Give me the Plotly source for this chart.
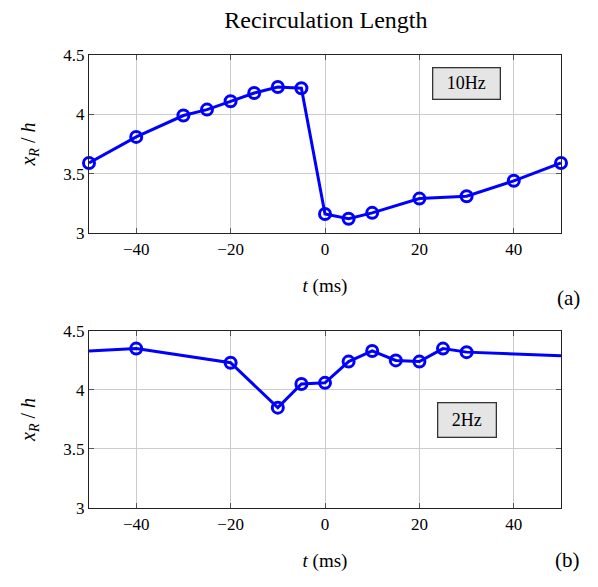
import plotly.graph_objects as go

# ---- data ----
t_10hz = [-50, -40, -30, -25, -20, -15, -10, -5, 0, 5, 10, 20, 30, 40, 50]
xr_10hz = [3.59, 3.81, 3.99, 4.04, 4.11, 4.18, 4.23, 4.22, 3.16, 3.12, 3.17, 3.29, 3.31, 3.44, 3.59]

t_2hz = [-50, -40, -20, -10, -5, 0, 5, 10, 15, 20, 25, 30, 50]
xr_2hz = [4.33, 4.35, 4.23, 3.85, 4.05, 4.06, 4.24, 4.33, 4.25, 4.24, 4.35, 4.32, 4.29]
marker_2hz = [False, True, True, True, True, True, True, True, True, True, True, True, False]

x_ticks = [-40, -20, 0, 20, 40]
y_ticks = [3, 3.5, 4, 4.5]
y_tick_text = ["3", "3.5", "4", "4.5"]

BLUE = "#0000ff"
SERIF = "Liberation Serif"

fig = go.Figure()

fig.add_trace(go.Scatter(
    x=t_10hz, y=xr_10hz, mode="lines+markers",
    line=dict(color=BLUE, width=3),
    marker=dict(symbol="circle-open", size=11, color=BLUE, opacity=1, line=dict(width=3, color=BLUE)),
    xaxis="x", yaxis="y", cliponaxis=False, showlegend=False))

fig.add_trace(go.Scatter(
    x=t_2hz, y=xr_2hz, mode="lines",
    line=dict(color=BLUE, width=3),
    xaxis="x2", yaxis="y2", showlegend=False))
fig.add_trace(go.Scatter(
    x=[t for t, m in zip(t_2hz, marker_2hz) if m],
    y=[v for v, m in zip(xr_2hz, marker_2hz) if m],
    mode="markers",
    marker=dict(symbol="circle-open", size=11, color=BLUE, opacity=1, line=dict(width=3, color=BLUE)),
    xaxis="x2", yaxis="y2", cliponaxis=False, showlegend=False))

axis_common = dict(
    showline=True, linecolor="#222", linewidth=1.3, mirror="ticks",
    ticks="inside", ticklen=5, tickcolor="#555", tickwidth=1,
    showgrid=True, gridcolor="#cccccc", gridwidth=1, zeroline=False,
    tickfont=dict(family=SERIF, size=17, color="black"), automargin=False,
)

xcommon = dict(axis_common, range=[-50, 50], tickvals=x_ticks)
ycommon = dict(axis_common, range=[3, 4.5], tickvals=y_ticks, ticktext=y_tick_text)

xtitle = dict(text="<i>t</i> (ms)", font=dict(family=SERIF, size=19, color="black"), standoff=21)
ytitle = dict(text="<i>x</i><sub><i>R</i></sub> / <i>h</i>", font=dict(family=SERIF, size=20, color="black"), standoff=22)

fig.update_layout(
    width=598, height=587,
    margin=dict(l=89, r=37, t=55, b=79),
    plot_bgcolor="white", paper_bgcolor="white",
    title=dict(text="Recirculation Length", x=0.545, xanchor="center", y=1 - 20 / 587, yanchor="middle",
               font=dict(family=SERIF, size=24, color="black")),
    xaxis=dict(xcommon, domain=[0, 1], anchor="y", title=xtitle),
    yaxis=dict(ycommon, domain=[0.607, 1.0], anchor="x", title=ytitle),
    xaxis2=dict(xcommon, domain=[0, 1], anchor="y2", title=xtitle),
    yaxis2=dict(ycommon, domain=[0, 0.391], anchor="x2", title=ytitle),
)

box = dict(bgcolor="#e5e5e5", bordercolor="#333", borderwidth=1.3, borderpad=3,
           font=dict(family=SERIF, size=18, color="black"), showarrow=False)
fig.add_annotation(text="10Hz", x=30, y=4.256, xref="x", yref="y", width=60, height=24, **box)
fig.add_annotation(text="2Hz", x=30, y=3.749, xref="x2", yref="y2", width=51, height=27, **box)

# panel labels placed by pixel position, converted to paper coords
W, H = 598, 587
L, R, T, B = 89, 37, 55, 79
pw, ph = W - L - R, H - T - B
for txt, px, py in [("(a)", 582, 298), ("(b)", 582, 574)]:
    fig.add_annotation(text=txt, x=(px - L) / pw, y=(H - B - py) / ph, xref="paper", yref="paper",
                       showarrow=False, font=dict(family=SERIF, size=21, color="black"))

fig.write_html("out.html", config={"displayModeBar": False},
               post_script="document.body.style.margin='0';")
